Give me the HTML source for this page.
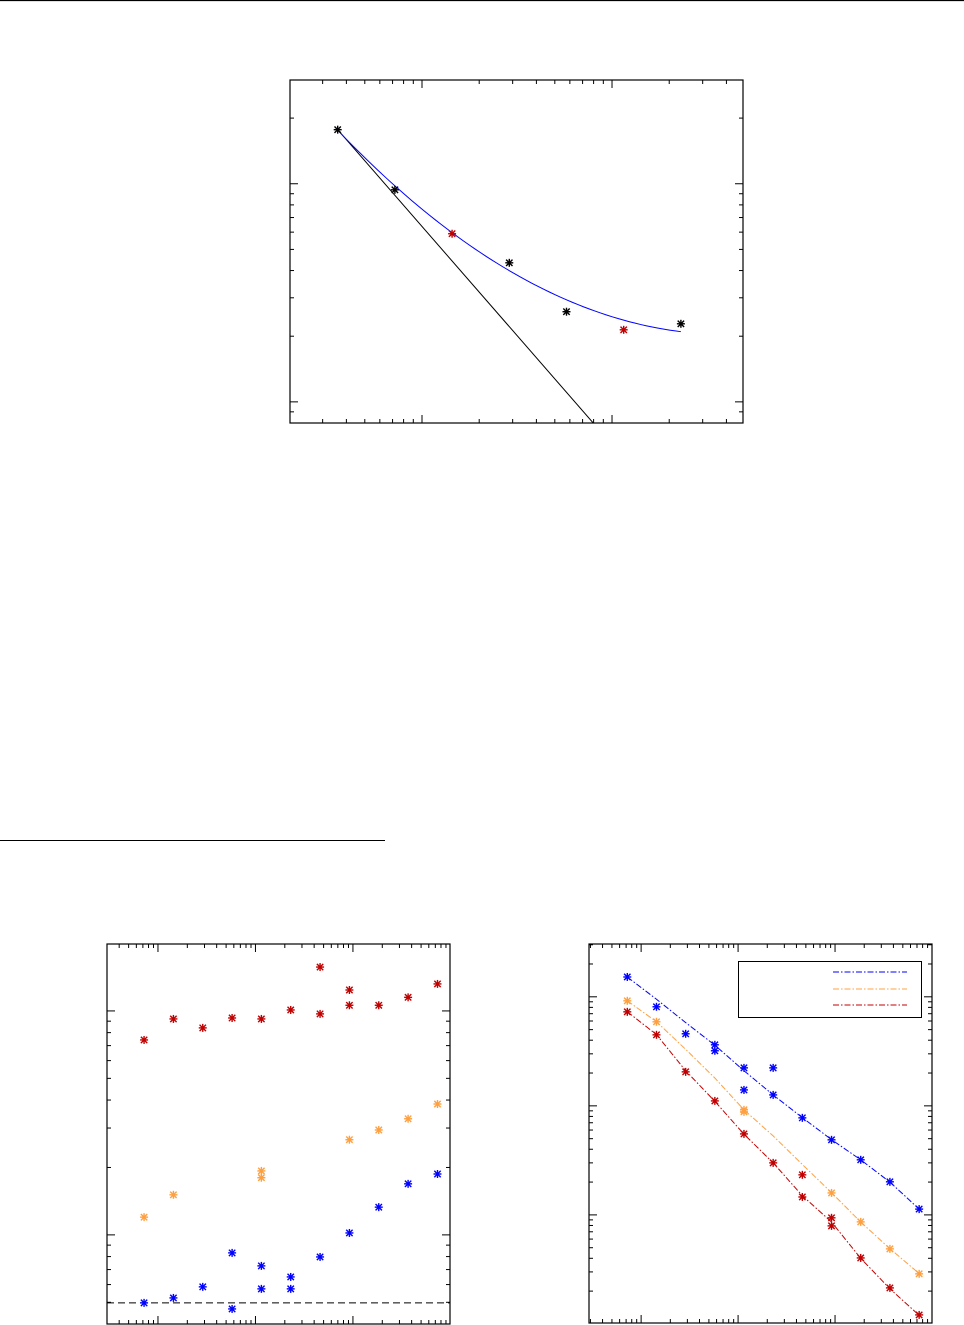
<!DOCTYPE html>
<html><head><meta charset="utf-8"><style>
html,body{margin:0;padding:0;background:#fff;}
svg{display:block;font-family:"Liberation Sans",sans-serif;}
</style></head><body>
<svg id="page" width="964" height="1325" viewBox="0 0 964 1325" xmlns="http://www.w3.org/2000/svg">
<line x1="0" y1="0.5" x2="964" y2="0.5" stroke="#000" stroke-width="1.2"/>
<line x1="0" y1="840.5" x2="385" y2="840.5" stroke="#000" stroke-width="1"/>
</svg>
<script>
// ---- Top chart data ----
const topX = [3.6, 7.2, 14.4, 28.8, 57.6, 115.2, 230.4];
const topY = [17.7, 9.38, 5.90, 4.34, 2.59, 2.14, 2.28];
const topColors = ['#000','#000','#c00000','#000','#000','#c00000','#000'];
const topFit = [17.7, 9.6, 6.0, 4.1, 2.9, 2.33, 2.12];
const topSlope = [-1];
// ---- Bottom-left chart data ----
const blX = [0.72, 1.44, 2.88, 5.76, 11.5, 23, 46, 92, 184, 368, 737];
const blRedX = [0.72,1.44,2.88,5.76,11.5,23,46,46,92,92,184,368,737];
const blRedY = [7.42,9.21,8.40,9.30,9.21,10.1,15.7,9.70,12.4,10.6,10.6,11.5,13.2];
const blOrangeX = [0.72,1.44,11.5,11.5,92,184,368,737];
const blOrangeY = [1.20,1.51,1.93,1.80,2.66,2.94,3.30,3.84];
const blBlueX = [0.72,1.44,2.88,5.76,5.76,11.5,11.5,23,23,46,92,184,368,737];
const blBlueY = [0.497,0.523,0.586,0.831,0.467,0.727,0.574,0.649,0.574,0.797,1.02,1.33,1.69,1.87];
const blRef = [0.497];
// ---- Bottom-right chart data ----
const brBlueX = [0.72,1.44,2.88,5.76,5.76,11.5,11.5,23,23,46,92,184,368,737];
const brBlueY = [152,81,45.8,36.3,32.0,22.3,14.0,22.3,12.6,7.76,4.88,3.20,2.01,1.13];
const brOrangeX = [0.72,1.44,11.5,11.5,92,184,368,737];
const brOrangeY = [91.9,59.0,9.19,8.81,1.59,0.863,0.488,0.288];
const brRedX = [0.72,1.44,2.88,5.76,11.5,23,46,46,92,92,184,368,737];
const brRedY = [72.8,44.8,20.5,11.1,5.53,3.00,2.33,1.46,0.94,0.793,0.403,0.214,0.121];
const brFitBlue = [152,95,58,36,21,12.6,7.8,4.9,3.2,2.0,1.13];
const brFitOrange = [92,59,33,18,9.2,5.3,2.9,1.6,0.86,0.49,0.29];
const brFitRed = [73,45,21,11,5.5,3.0,1.5,0.86,0.40,0.21,0.12];

const NS='http://www.w3.org/2000/svg';
const svg=document.getElementById('page');
function mk(tag,attrs,parent){const e=document.createElementNS(NS,tag);for(const k in attrs)e.setAttribute(k,attrs[k]);(parent||svg).appendChild(e);return e;}
function logScale(d0,d1,r0,r1){const a=Math.log10(d0),b=Math.log10(d1);return v=>r0+(Math.log10(v)-a)/(b-a)*(r1-r0);}

function makeChart(name,f,xd,yd){
  const g=mk('g',{});
  
  
  const sx=logScale(xd[0],xd[1],f.x,f.x+f.w), sy=logScale(yd[0],yd[1],f.y+f.h,f.y);
  const fr=mk('rect',{x:f.x,y:f.y,width:f.w,height:f.h,fill:'none',stroke:'#000','stroke-width':1.2},g);
  
  
  const ticks=mk('g',{stroke:'#000','stroke-width':1},g);
  
  
  function each(d0,d1,cb){for(let e=Math.floor(Math.log10(d0));e<=Math.ceil(Math.log10(d1));e++){for(let m=1;m<10;m++){const v=m*Math.pow(10,e);if(v>=d0&&v<=d1)cb(v,m===1);}}}
  each(xd[0],xd[1],(v,maj)=>{const x=sx(v),L=maj?8:4;
    mk('line',{x1:x,y1:f.y+f.h,x2:x,y2:f.y+f.h-L},ticks);mk('line',{x1:x,y1:f.y,x2:x,y2:f.y+L},ticks);});
  each(yd[0],yd[1],(v,maj)=>{const y=sy(v),L=maj?8:4;
    mk('line',{x1:f.x,y1:y,x2:f.x+L,y2:y},ticks);mk('line',{x1:f.x+f.w,y1:y,x2:f.x+f.w-L,y2:y},ticks);});
  return {g,sx,sy,f};
}
function star(c,x,y,color,name){
  const s=mk('g',{stroke:color,'stroke-width':1.4},c.g);
  
  
  const px=c.sx(x),py=c.sy(y),r=4;
  mk('line',{x1:px-r,y1:py,x2:px+r,y2:py},s);
  mk('line',{x1:px,y1:py-r,x2:px,y2:py+r},s);
  mk('line',{x1:px-r*0.8,y1:py-r*0.8,x2:px+r*0.8,y2:py+r*0.8},s);
  mk('line',{x1:px-r*0.8,y1:py+r*0.8,x2:px+r*0.8,y2:py-r*0.8},s);
}
// quadratic least-squares fit in log-log space
function quadFit(xs,ys){
  const X=xs.map(Math.log10),Y=ys.map(Math.log10);
  let S=[0,0,0,0,0],T=[0,0,0];
  X.forEach((x,i)=>{for(let k=0;k<5;k++)S[k]+=Math.pow(x,k);for(let k=0;k<3;k++)T[k]+=Math.pow(x,k)*Y[i];});
  const A=[[S[0],S[1],S[2],T[0]],[S[1],S[2],S[3],T[1]],[S[2],S[3],S[4],T[2]]];
  for(let i=0;i<3;i++){for(let j=i+1;j<3;j++){const f=A[j][i]/A[i][i];for(let k=i;k<4;k++)A[j][k]-=f*A[i][k];}}
  const c=[0,0,0];
  for(let i=2;i>=0;i--){let s=A[i][3];for(let k=i+1;k<3;k++)s-=A[i][k]*c[k];c[i]=s/A[i][i];}
  return x=>{const l=Math.log10(x);return Math.pow(10,c[0]+c[1]*l+c[2]*l*l);};
}

// Top chart
const T=makeChart('top-chart',{x:290,y:80,w:453,h:343},[2.02,489],[0.8,29.9]);
const cp=mk('clipPath',{id:'clipT'});mk('rect',{x:290,y:80,width:453,height:343},cp);
{
  const x0=topX[0],y0=topY[0];
  const x1=489, y1=y0*Math.pow(x1/x0,topSlope[0]);
  const l=mk('line',{x1:T.sx(x0),y1:T.sy(y0),x2:T.sx(x1),y2:T.sy(y1),stroke:'#000','stroke-width':1,'clip-path':'url(#clipT)'},T.g);
  
  
  const fit=quadFit(topX,topFit);
  const pts=[];const a=Math.log10(topX[0]),b=Math.log10(topX[topX.length-1]);
  for(let i=0;i<=60;i++){const x=Math.pow(10,a+(b-a)*i/60);pts.push(T.sx(x).toFixed(2)+','+T.sy(fit(x)).toFixed(2));}
  const p=mk('polyline',{points:pts.join(' '),fill:'none',stroke:'#0000ff','stroke-width':1},T.g);
  
  
  topX.forEach((x,i)=>star(T,x,topY[i],topColors[i],'data-point'));
}

// Bottom-left
const L=makeChart('bottom-left-chart',{x:107,y:944,w:343,h:380},[0.30,990],[0.40,19.9]);
{
  const y=L.sy(blRef[0]);
  const l=mk('line',{x1:L.f.x,y1:y,x2:L.f.x+L.f.w,y2:y,stroke:'#000','stroke-width':1,'stroke-dasharray':'7,4'},L.g);
  
  
  blRedX.forEach((x,i)=>star(L,x,blRedY[i],'#c00000','red-point'));
  blOrangeX.forEach((x,i)=>star(L,x,blOrangeY[i],'#ffa040','orange-point'));
  blBlueX.forEach((x,i)=>star(L,x,blBlueY[i],'#0000ff','blue-point'));
}

// Bottom-right
const R=makeChart('bottom-right-chart',{x:589,y:944,w:343,h:379},[0.29,1000],[0.102,305]);
{
  [[brFitBlue,'#0000ff','blue-fit-line'],[brFitOrange,'#ffa040','orange-fit-line'],[brFitRed,'#c00000','red-fit-line']].forEach(([arr,c,n])=>{
    const p=mk('polyline',{points:blX.map((x,i)=>R.sx(x)+','+R.sy(arr[i])).join(' '),fill:'none',stroke:c,'stroke-width':1,'stroke-dasharray':'6,2,1.5,2'},R.g);
    
    
  });
  brBlueX.forEach((x,i)=>star(R,x,brBlueY[i],'#0000ff','blue-point'));
  brOrangeX.forEach((x,i)=>star(R,x,brOrangeY[i],'#ffa040','orange-point'));
  brRedX.forEach((x,i)=>star(R,x,brRedY[i],'#c00000','red-point'));
  const lg=mk('g',{},R.g);
  
  
  mk('rect',{x:738.5,y:961.5,width:183,height:56,fill:'#fff',stroke:'#000','stroke-width':1},lg);
  [['#0000ff',972],['#ffa040',989],['#c00000',1005]].forEach(([c,y])=>{
    const e=mk('line',{x1:833,y1:y,x2:907,y2:y,stroke:c,'stroke-width':1,'stroke-dasharray':'6,2,1.5,2'},lg);
    
    
  });
}
</script>
</body></html>
